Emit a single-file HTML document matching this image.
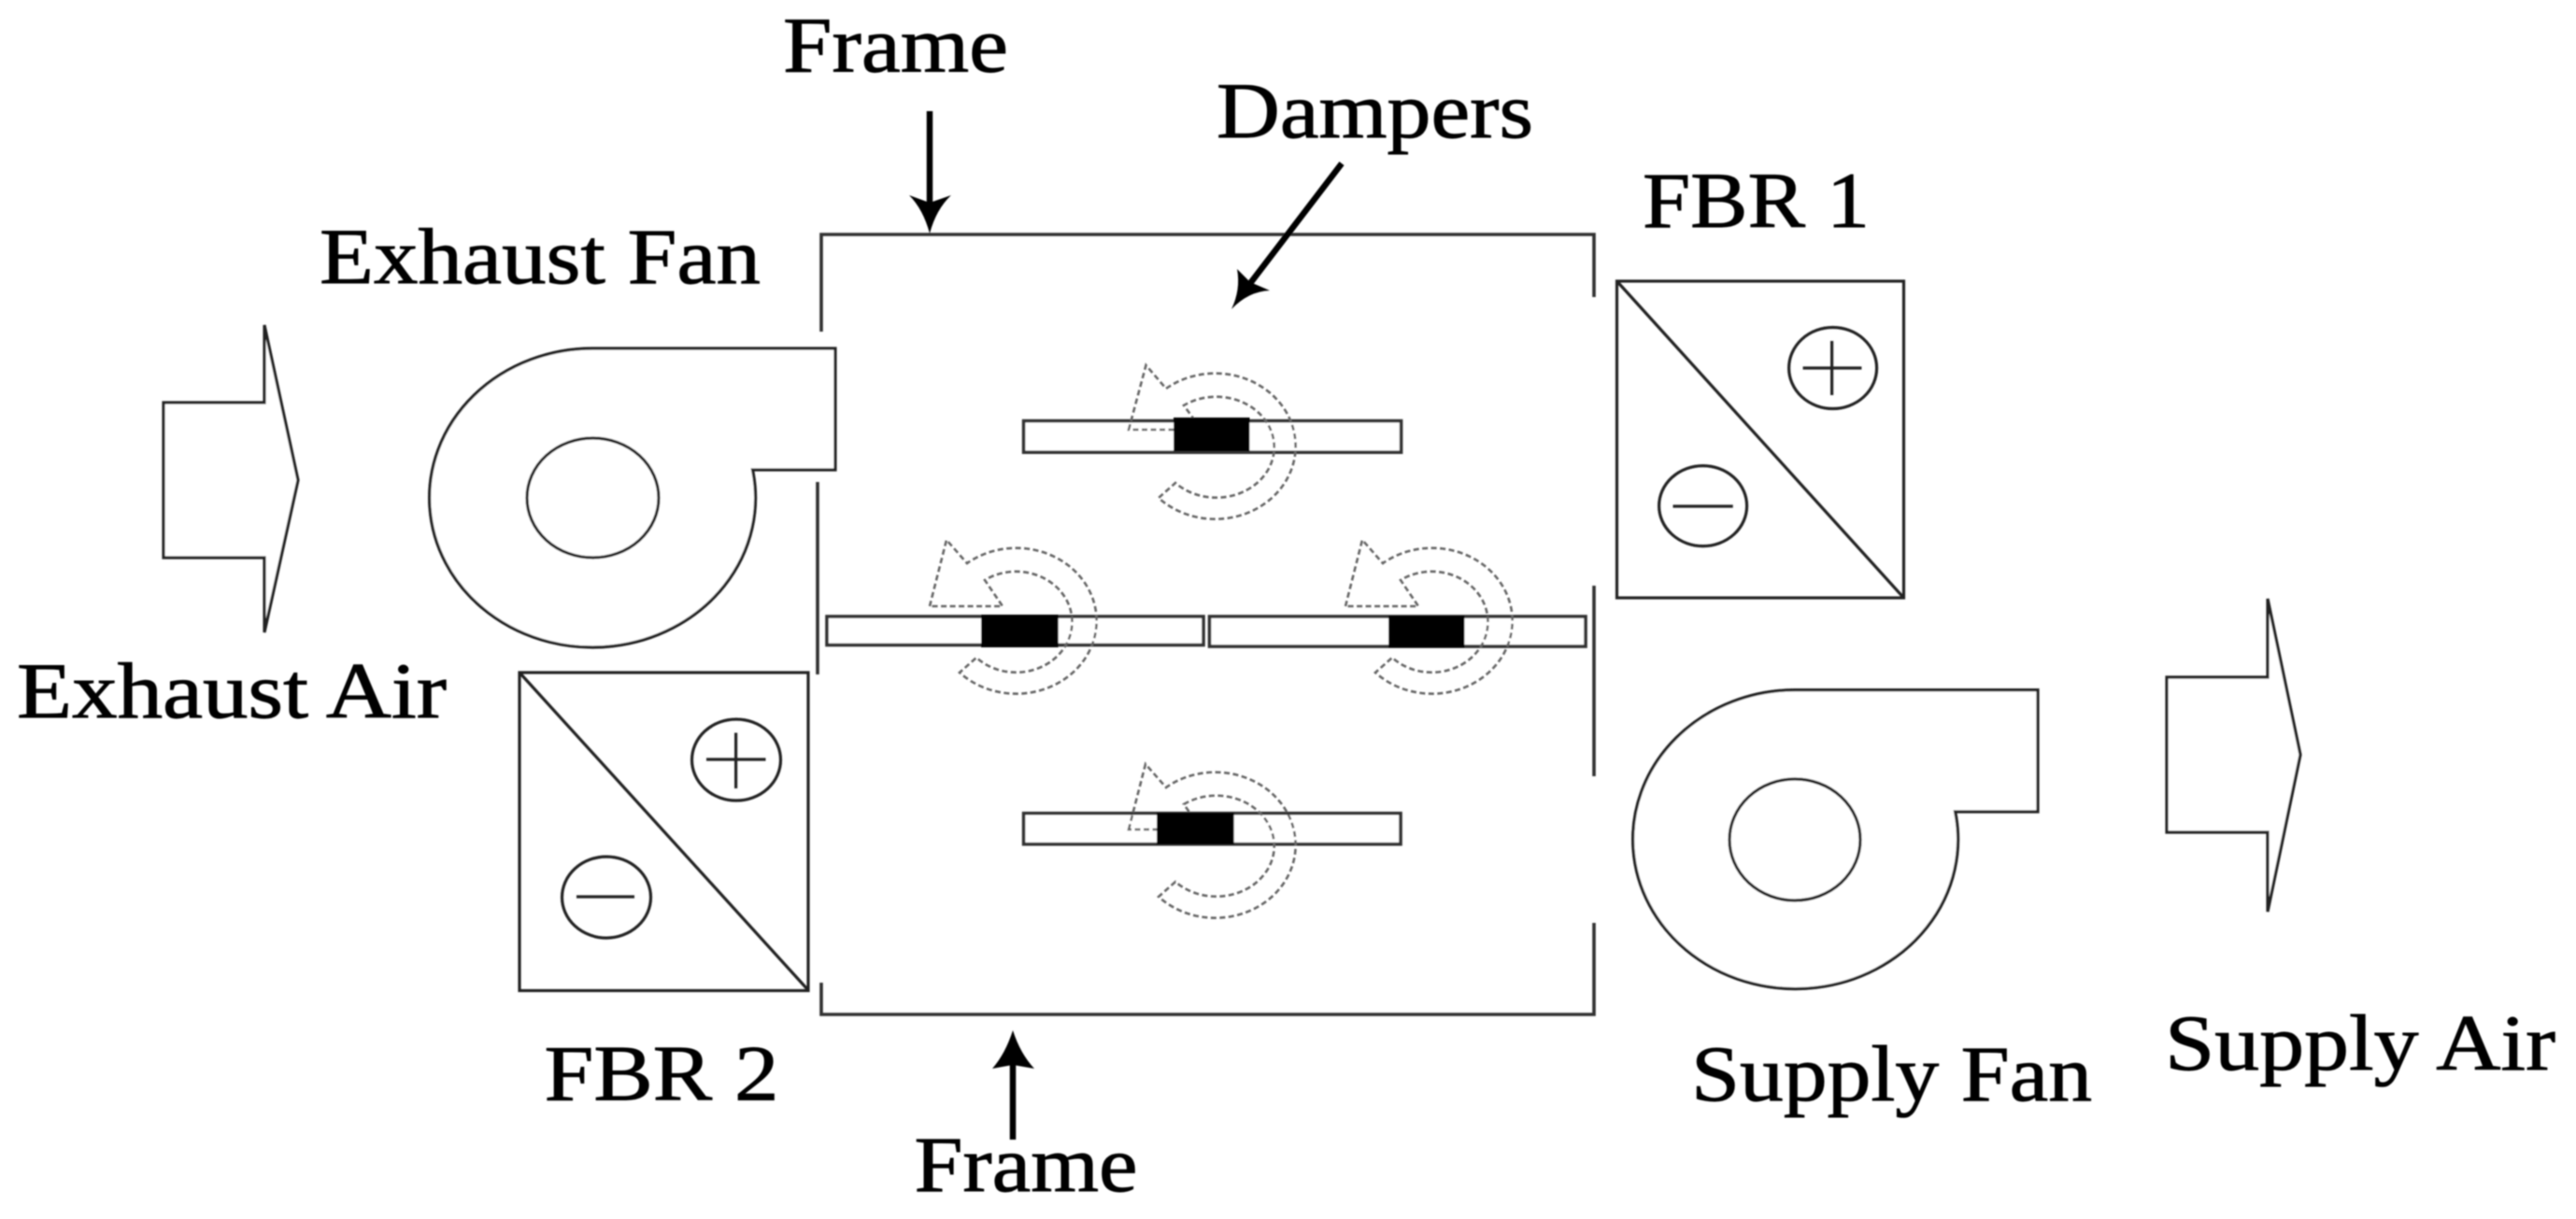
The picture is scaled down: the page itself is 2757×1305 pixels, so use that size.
<!DOCTYPE html>
<html>
<head>
<meta charset="utf-8">
<style>
html,body{margin:0;padding:0;background:#fff;}
svg{display:block;}
text{font-family:"Liberation Serif",serif;font-size:85px;fill:#000;stroke:#000;stroke-width:0.9px;}
</style>
</head>
<body>
<svg xmlns="http://www.w3.org/2000/svg" width="2757" height="1305" viewBox="0 0 2757 1305">
<defs>
<filter id="b" x="0" y="0" width="2757" height="1305" filterUnits="userSpaceOnUse" primitiveUnits="userSpaceOnUse">
<feGaussianBlur stdDeviation="0.7"/>
</filter>
</defs>
<rect width="2757" height="1305" fill="#fff"/>
<g filter="url(#b)">
<!-- frame -->
<g fill="none" stroke="#333" stroke-width="3.6">
<path d="M879,355 V251 H1706 V318"/>
<path d="M875,516 V722"/>
<path d="M1706,627 V831"/>
<path d="M879,1052 V1086 H1706 V988"/>
</g>
<!-- big outline arrows -->
<g fill="#fff" stroke="#222" stroke-width="3.2">
<path d="M175,431 H283 V348 L319,514 L283,677 V597 H175 Z"/>
<path d="M2319,725 H2427 V641 L2462,808 L2427,976 V891 H2319 Z"/>
</g>
<!-- fans -->
<g fill="#fff" stroke="#222" stroke-width="3.2">
<path d="M634.6,373 H894 V503 H805.5 A174.5,160 0 1 1 634.6,373 Z"/>
<ellipse cx="634.5" cy="533" rx="70.5" ry="64"/>
<path d="M1920.4,738.6 H2181 V869 H2092.6 A174,160 0 1 1 1920.4,738.6 Z"/>
<ellipse cx="1921" cy="899" rx="70" ry="65"/>
</g>
<!-- FBR 1 -->
<g fill="none" stroke="#222" stroke-width="3.2">
<rect x="1730.5" y="301" width="307" height="339"/>
<path d="M1730.5,301 L2037.5,640"/>
<ellipse cx="1961.6" cy="394" rx="47" ry="43.5"/>
<path d="M1929.6,394 H1992.4 M1960.6,365 V423"/>
<ellipse cx="1822.6" cy="541.6" rx="47" ry="43"/>
<path d="M1790.5,542 H1854.7"/>
</g>
<!-- FBR 2 -->
<g fill="none" stroke="#222" stroke-width="3.2">
<rect x="556" y="720" width="309" height="340.5"/>
<path d="M556,720 L865,1060"/>
<ellipse cx="788" cy="813.5" rx="47.5" ry="43.5"/>
<path d="M756,813 H819.5 M787.6,784.5 V844"/>
<ellipse cx="649" cy="960.6" rx="47.5" ry="43.5"/>
<path d="M617,960 H679"/>
</g>
<!-- dampers -->
<g fill="#fff" stroke="#333" stroke-width="3.6">
<rect x="1095.6" y="450.6" width="404" height="33.6"/>
<rect x="885" y="660" width="403" height="30.5"/>
<rect x="1294.5" y="660" width="402.5" height="32"/>
<rect x="1095.6" y="870.7" width="403.4" height="33"/>
</g>
<!-- rotation arrows -->
<g fill="none" stroke="#666" stroke-width="2.6" stroke-dasharray="6 3.5">
<path d="M1208,460 L1226.5,391 L1248,416 A86,78 0 1 1 1240,533 L1258,517 A62,54 0 1 0 1267,434 L1286,460 Z"/>
<path d="M995,649 L1013,578 L1035,603 A86,78 0 1 1 1027,720 L1045,704 A60,54 0 1 0 1054,621 L1073,649 Z"/>
<path d="M1440,649 L1458,578 L1480,603 A86,78 0 1 1 1472,720 L1490,704 A60,54 0 1 0 1499,621 L1518,649 Z"/>
<path d="M1208,888 L1226,818 L1248,843 A86,78 0 1 1 1240,960 L1258,944 A62,54 0 1 0 1267,861 L1286,888 Z"/>
</g>
<!-- black blocks -->
<g fill="#000">
<rect x="1256" y="447" width="81.5" height="36"/>
<rect x="1050" y="658" width="82.7" height="35"/>
<rect x="1486" y="659" width="81.5" height="34.5"/>
<rect x="1238" y="870" width="82.7" height="34"/>
</g>
<!-- black pointers -->
<g fill="#000" stroke="none">
<path d="M995,119 V225" stroke="#000" stroke-width="6.5" fill="none"/>
<path d="M995,250 Q988,224 973,209 L995,217 L1018,209 Q1002,224 995,250 Z"/>
<path d="M1436,175 L1336,306" stroke="#000" stroke-width="6.5" fill="none"/>
<path d="M1318,331 Q1328,310 1324,288 L1338,302 L1359,311 Q1336,312 1318,331 Z"/>
<path d="M1084,1220 V1130" stroke="#000" stroke-width="6.5" fill="none"/>
<path d="M1084,1103 Q1076,1128 1062,1144 L1084,1140 L1107,1144 Q1092,1128 1084,1103 Z"/>
</g>
<!-- labels -->
<text x="838" y="76.5" textLength="241" lengthAdjust="spacingAndGlyphs">Frame</text>
<text x="1302" y="147" textLength="339" lengthAdjust="spacingAndGlyphs">Dampers</text>
<text x="1758" y="243" textLength="243" lengthAdjust="spacingAndGlyphs">FBR 1</text>
<text x="342" y="303" textLength="472" lengthAdjust="spacingAndGlyphs">Exhaust Fan</text>
<text x="18" y="768" textLength="460" lengthAdjust="spacingAndGlyphs">Exhaust Air</text>
<text x="582.5" y="1177.6" textLength="251" lengthAdjust="spacingAndGlyphs">FBR 2</text>
<text x="1810" y="1178" textLength="429" lengthAdjust="spacingAndGlyphs">Supply Fan</text>
<text x="2317" y="1145" textLength="418" lengthAdjust="spacingAndGlyphs">Supply Air</text>
<text x="978.5" y="1275" textLength="239" lengthAdjust="spacingAndGlyphs">Frame</text>
</g>
</svg>
</body>
</html>
